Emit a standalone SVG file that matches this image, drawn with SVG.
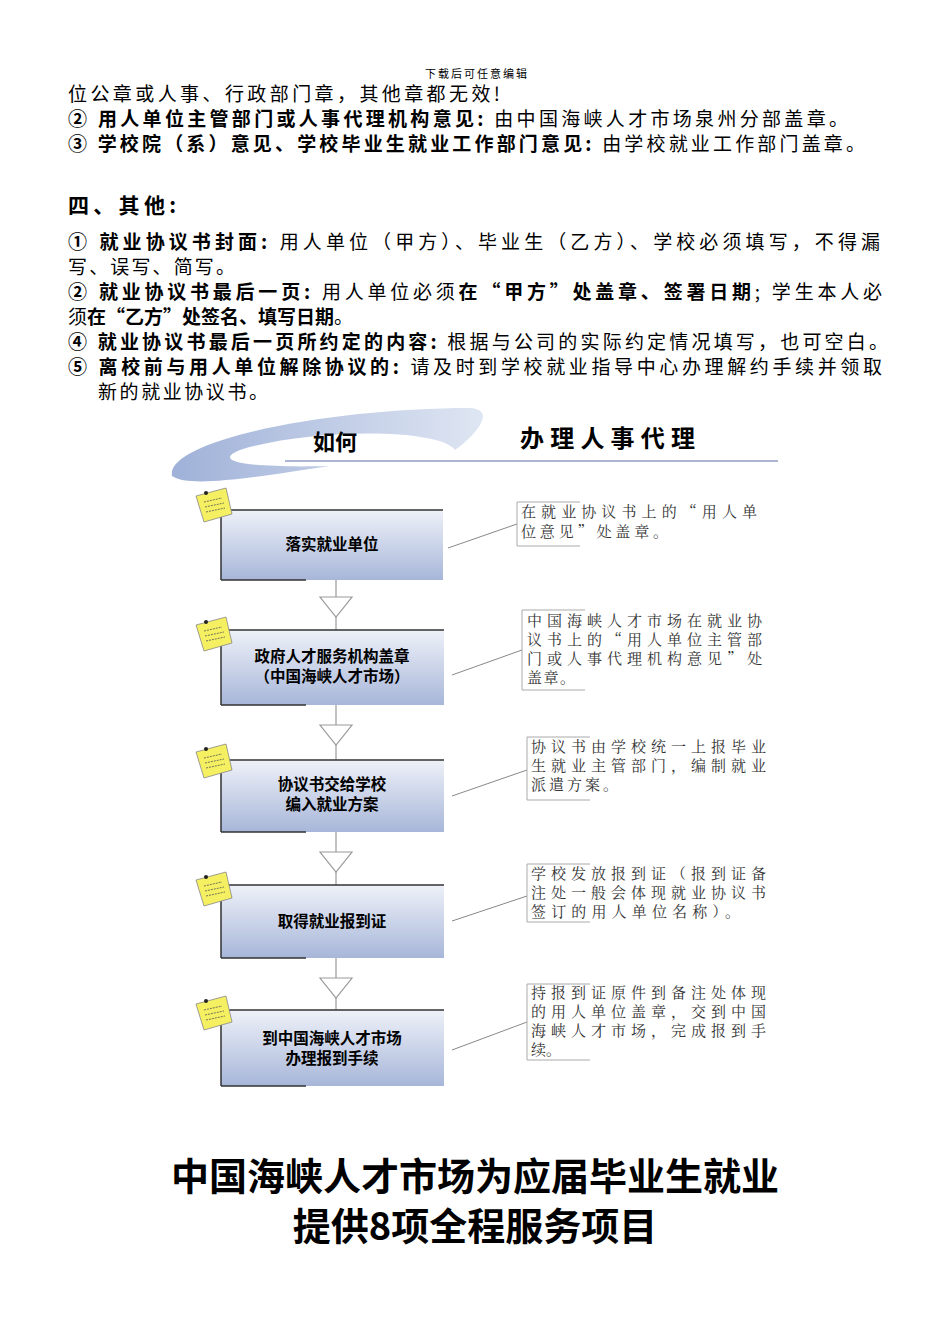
<svg xmlns="http://www.w3.org/2000/svg" width="950" height="1344" viewBox="0 0 950 1344">
<style>
text{font-family:"Noto Sans CJK SC","Liberation Sans",sans-serif;fill:#000}
.t{font-size:19px}
.b{font-weight:bold}
.n{font-size:15px;fill:#333;font-family:"Noto Serif CJK SC","Noto Sans CJK SC",serif}
.bx{fill:url(#g);stroke:none}
.bl{stroke:#333;stroke-width:1.5;fill:none}
.tri{fill:#fff;stroke:#999;stroke-width:1.2}
.cl{stroke:#888;stroke-width:1;fill:none}
.nb{stroke:#aaa;stroke-width:1;fill:none}
.bt{font-size:15.5px;font-weight:bold;text-anchor:middle}
</style>
<defs>
<linearGradient id="g" x1="0" y1="0" x2="0" y2="1"><stop offset="0" stop-color="#eef1f8"/><stop offset="1" stop-color="#a7b6d9"/></linearGradient>
<linearGradient id="sw" x1="0" y1="0" x2="1" y2="0"><stop offset="0" stop-color="#9fb1d8"/><stop offset="1" stop-color="#dfe6f3"/></linearGradient>
<g id="note"><path d="M0,8 L30,0 L36,26 L8,34 Z" fill="#f5ef62" stroke="#888" stroke-width="0.8"/><circle cx="10" cy="5" r="2" fill="#222"/><path d="M8,14 L26,10 M9,19 L28,15 M10,24 L29,20" stroke="#555" stroke-width="0.8" stroke-dasharray="2 1"/></g>
</defs>
<text x="425" y="78" font-size="11" textLength="102" lengthAdjust="spacing">下载后可任意编辑</text>
<text class="t" x="68" y="101" textLength="432" lengthAdjust="spacing">位公章或人事、行政部门章，其他章都无效!</text>
<text class="t" x="68" y="126" textLength="780" lengthAdjust="spacing"><tspan class="b">② 用人单位主管部门或人事代理机构意见:</tspan> 由中国海峡人才市场泉州分部盖章。</text>
<text class="t" x="68" y="151" textLength="797" lengthAdjust="spacing"><tspan class="b">③ 学校院（系）意见、学校毕业生就业工作部门意见:</tspan> 由学校就业工作部门盖章。</text>
<text x="68" y="213" font-size="21" class="b" textLength="108" lengthAdjust="spacing">四、其他:</text>
<text class="t" x="68" y="249" textLength="812" lengthAdjust="spacing"><tspan class="b">① 就业协议书封面:</tspan> 用人单位（甲方）、毕业生（乙方）、学校必须填写，不得漏</text>
<text class="t" x="68" y="274" textLength="167" lengthAdjust="spacing">写、误写、简写。</text>
<text class="t" x="68" y="299" textLength="814" lengthAdjust="spacing"><tspan class="b">② 就业协议书最后一页:</tspan> 用人单位必须<tspan class="b">在“甲方”处盖章、签署日期</tspan>; 学生本人必</text>
<text class="t" x="68" y="324">须<tspan class="b">在“乙方”处签名、填写日期</tspan>。</text>
<text class="t" x="68" y="349" textLength="820" lengthAdjust="spacing"><tspan class="b">④ 就业协议书最后一页所约定的内容:</tspan> 根据与公司的实际约定情况填写，也可空白。</text>
<text class="t" x="68" y="374" textLength="814" lengthAdjust="spacing"><tspan class="b">⑤ 离校前与用人单位解除协议的:</tspan> 请及时到学校就业指导中心办理解约手续并领取</text>
<text class="t" x="98" y="399" textLength="170" lengthAdjust="spacing">新的就业协议书。</text>
<g id="banner">
<path d="M172,476 C165,440 330,408 470,408 C500,410 470,440 455,450 C440,428 310,428 240,450 C210,462 250,468 330,466 C250,478 190,488 172,476 Z" fill="url(#sw)"/>
<line x1="285" y1="461" x2="778" y2="461" stroke="#5a6f9f" stroke-width="1.2"/>
<text x="313" y="450" font-size="22" class="b">如何</text>
<text x="520" y="447" font-size="24" class="b" textLength="175" lengthAdjust="spacing">办理人事代理</text>
</g>
<g id="connectors">
<line class="tri" x1="336" y1="580" x2="336" y2="630"/><path class="tri" d="M320,597 L352,597 L336,617 Z"/>
<line class="tri" x1="336" y1="705" x2="336" y2="760"/><path class="tri" d="M320,725 L352,725 L336,745 Z"/>
<line class="tri" x1="336" y1="832" x2="336" y2="885"/><path class="tri" d="M320,852 L352,852 L336,872 Z"/>
<line class="tri" x1="336" y1="958" x2="336" y2="1010"/><path class="tri" d="M320,978 L352,978 L336,998 Z"/>
<line class="cl" x1="448" y1="548" x2="517" y2="524"/>
<line class="cl" x1="452" y1="675" x2="522" y2="650"/>
<line class="cl" x1="452" y1="796" x2="527" y2="770"/>
<line class="cl" x1="452" y1="921" x2="527" y2="896"/>
<line class="cl" x1="452" y1="1050" x2="527" y2="1022"/>
</g>
<g id="n1"><rect class="bx" x="221" y="510" width="222" height="70"/><path class="bl" d="M221,580 L221,510 L443,510 M221,580 L306,580"/><text class="bt" x="332" y="550">落实就业单位</text><use href="#note" x="196" y="488"/></g>
<g id="n2"><rect class="bx" x="221" y="630" width="223" height="75"/><path class="bl" d="M221,705 L221,630 L444,630 M221,705 L306,705"/><text class="bt" x="332" y="662">政府人才服务机构盖章</text><text class="bt" x="332" y="682">（中国海峡人才市场）</text><use href="#note" x="196" y="617"/></g>
<g id="n3"><rect class="bx" x="221" y="760" width="223" height="72"/><path class="bl" d="M221,832 L221,760 L444,760 M221,832 L306,832"/><text class="bt" x="332" y="790">协议书交给学校</text><text class="bt" x="332" y="810">编入就业方案</text><use href="#note" x="196" y="744"/></g>
<g id="n4"><rect class="bx" x="221" y="885" width="223" height="73"/><path class="bl" d="M221,958 L221,885 L444,885 M221,958 L306,958"/><text class="bt" x="332" y="927">取得就业报到证</text><use href="#note" x="196" y="872"/></g>
<g id="n5"><rect class="bx" x="221" y="1010" width="223" height="76"/><path class="bl" d="M221,1086 L221,1010 L444,1010 M221,1086 L306,1086"/><text class="bt" x="332" y="1044">到中国海峡人才市场</text><text class="bt" x="332" y="1064">办理报到手续</text><use href="#note" x="196" y="996"/></g>
<g id="t1"><path class="nb" d="M580,502 L517,502 L517,546 L580,546"/><text class="n" x="521" y="517" textLength="236" lengthAdjust="spacing">在就业协议书上的“用人单</text><text class="n" x="521" y="537" textLength="147" lengthAdjust="spacing">位意见”处盖章。</text></g>
<g id="t2"><path class="nb" d="M585,610 L522,610 L522,690 L585,690"/><text class="n" x="527" y="626" textLength="235" lengthAdjust="spacing">中国海峡人才市场在就业协</text><text class="n" x="527" y="645" textLength="235" lengthAdjust="spacing">议书上的“用人单位主管部</text><text class="n" x="527" y="664" textLength="235" lengthAdjust="spacing">门或人事代理机构意见”处</text><text class="n" x="527" y="683" textLength="48" lengthAdjust="spacing">盖章。</text></g>
<g id="t3"><path class="nb" d="M590,737 L527,737 L527,800 L590,800"/><text class="n" x="531" y="752" textLength="235" lengthAdjust="spacing">协议书由学校统一上报毕业</text><text class="n" x="531" y="771" textLength="235" lengthAdjust="spacing">生就业主管部门，编制就业</text><text class="n" x="531" y="790" textLength="87" lengthAdjust="spacing">派遣方案。</text></g>
<g id="t4"><path class="nb" d="M590,864 L527,864 L527,922 L590,922"/><text class="n" x="531" y="879" textLength="235" lengthAdjust="spacing">学校发放报到证（报到证备</text><text class="n" x="531" y="898" textLength="235" lengthAdjust="spacing">注处一般会体现就业协议书</text><text class="n" x="531" y="917" textLength="209" lengthAdjust="spacing">签订的用人单位名称）。</text></g>
<g id="t5"><path class="nb" d="M590,984 L527,984 L527,1060 L590,1060"/><text class="n" x="531" y="998" textLength="235" lengthAdjust="spacing">持报到证原件到备注处体现</text><text class="n" x="531" y="1017" textLength="235" lengthAdjust="spacing">的用人单位盖章，交到中国</text><text class="n" x="531" y="1036" textLength="235" lengthAdjust="spacing">海峡人才市场，完成报到手</text><text class="n" x="531" y="1055">续。</text></g>
<text x="475" y="1190" font-size="38" class="b" text-anchor="middle">中国海峡人才市场为应届毕业生就业</text>
<text x="475" y="1240" font-size="38" class="b" text-anchor="middle">提供8项全程服务项目</text>
</svg>
